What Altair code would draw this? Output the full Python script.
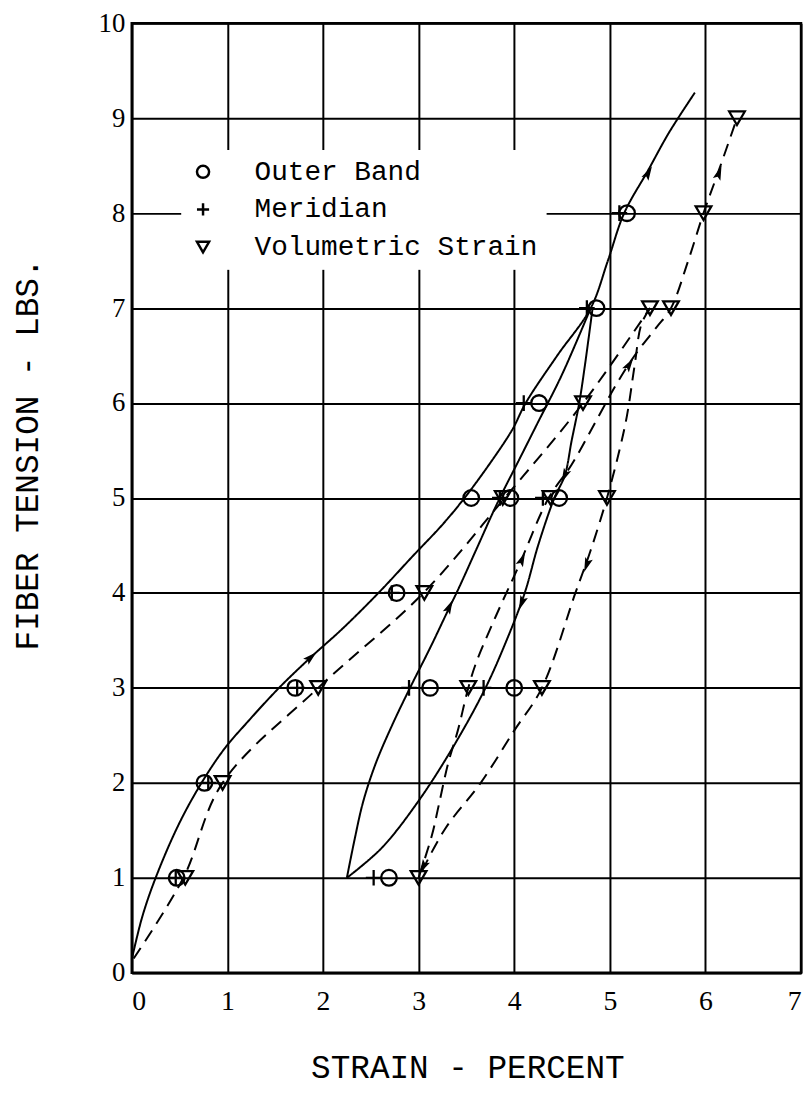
import math
import altair as alt
import pandas as pd

# ---------------- data ----------------
# solid curves (Outer band / meridian), each listed in the direction of travel
load_x = [0.0, 0.11, 0.25, 0.49, 0.73, 0.97, 1.21, 1.54, 1.87, 2.2, 2.58, 2.95, 3.25, 3.48, 3.75, 3.98, 4.12, 4.45, 4.8, 4.98, 5.15, 5.4, 5.62, 5.89]
load_y = [0.14, 0.59, 1.0, 1.56, 2.0, 2.36, 2.64, 3.0, 3.32, 3.62, 4.0, 4.4, 4.72, 5.0, 5.37, 5.72, 6.0, 6.5, 7.0, 7.5, 8.0, 8.45, 8.85, 9.27]

unload_x = [4.82, 4.74, 4.68, 4.6, 4.53, 4.42, 4.25, 4.11, 3.92, 3.7, 3.38, 3.0, 2.61, 2.25]
unload_y = [7.0, 6.4, 6.0, 5.6, 5.24, 5.0, 4.5, 4.0, 3.5, 3.0, 2.41, 1.81, 1.31, 1.0]

reload_x = [2.25, 2.33, 2.42, 2.55, 2.72, 2.91, 3.12, 3.3, 3.42, 3.6, 3.83, 4.05, 4.25, 4.5, 4.8]
reload_y = [1.0, 1.4, 1.8, 2.2, 2.6, 3.0, 3.42, 3.8, 4.05, 4.45, 4.96, 5.4, 5.8, 6.3, 7.0]

# dashed curves (volumetric strain)
vload_x = [0.02, 0.54, 0.95, 1.95, 3.05, 3.9, 4.72, 5.42]
vload_y = [0.15, 1.0, 2.0, 3.0, 4.0, 5.0, 6.0, 7.0]

vunload_x = [5.42, 5.33, 5.26, 5.18, 5.1, 4.97, 4.8, 4.64, 4.29, 4.0, 3.65, 3.28, 3.0]
vunload_y = [7.0, 6.83, 6.4, 5.87, 5.5, 5.0, 4.45, 4.0, 3.0, 2.55, 2.0, 1.52, 1.0]

vreload_x = [3.0, 3.14, 3.21, 3.31, 3.41, 3.52, 3.6, 3.81, 4.05, 4.36, 4.6, 4.85, 5.07, 5.28, 5.49, 5.64, 5.82, 5.98, 6.14, 6.33]
vreload_y = [1.0, 1.45, 1.76, 2.21, 2.55, 3.0, 3.26, 3.76, 4.29, 5.0, 5.35, 5.8, 6.2, 6.53, 6.8, 7.0, 7.5, 8.0, 8.45, 9.0]

# measured points
outer_x = [0.47, 2.69, 0.76, 1.71, 3.12, 4.0, 2.77, 3.55, 3.96, 4.47, 4.26, 4.86, 5.18]
outer_y = [1, 1, 2, 3, 3, 3, 4, 5, 5, 5, 6, 7, 8]

merid_x = [0.46, 2.53, 0.8, 1.73, 2.9, 3.68, 2.72, 3.85, 4.3, 4.1, 4.76, 5.1]
merid_y = [1, 1, 2, 3, 3, 3, 4, 5, 5, 6, 7, 8]

vol_x = [0.56, 3.0, 0.95, 1.95, 3.52, 4.29, 3.06, 3.88, 4.38, 4.97, 4.72, 5.42, 5.64, 5.98, 6.33]
vol_y = [1, 1, 2, 3, 3, 3, 4, 5, 5, 5, 6, 7, 7, 8, 9]

# arrow heads: (curve, x, y) – they point along the curve's direction of travel
arrow_curve = ["load", "load", "reload", "unload", "unload", "vreload", "vreload", "vreload", "vunload", "vunload"]
arrow_x = [1.87, 5.4, 3.32, 4.53, 4.08, 4.08, 5.2, 6.14, 4.76, 3.05]
arrow_y = [3.32, 8.42, 3.85, 5.24, 3.9, 4.35, 6.4, 8.42, 4.3, 1.12]

x_ticks = [0, 1, 2, 3, 4, 5, 6, 7]
y_ticks = [0, 1, 2, 3, 4, 5, 6, 7, 8, 9, 10]
series = ["Outer Band", "Meridian", "Volumetric Strain"]

# ---------------- tables ----------------
W, H = 676, 959
XMAX, YMAX = 7, 10

curves = {
    "load": ("solid", load_x, load_y),
    "unload": ("solid", unload_x, unload_y),
    "reload": ("solid", reload_x, reload_y),
    "vload": ("dashed", vload_x, vload_y),
    "vunload": ("dashed", vunload_x, vunload_y),
    "vreload": ("dashed", vreload_x, vreload_y),
}
line_rows = []
for name, (style, xs, ys) in curves.items():
    for i, (x, y) in enumerate(zip(xs, ys)):
        line_rows.append({"curve": name, "style": style, "i": i, "x": x, "y": y})
lines_df = pd.DataFrame(line_rows)

pt_rows = []
for s, xs, ys in zip(series, [outer_x, merid_x, vol_x], [outer_y, merid_y, vol_y]):
    for x, y in zip(xs, ys):
        pt_rows.append({"series": s, "x": x, "y": y})
pts_df = pd.DataFrame(pt_rows)

# arrow direction from the local curve segment (pixel space)
px_x, px_y = W / XMAX, H / YMAX
arr_rows = []
for c, ax, ay in zip(arrow_curve, arrow_x, arrow_y):
    _, xs, ys = curves[c]
    best, bi = 1e9, 0
    for k in range(len(xs) - 1):
        mx, my = (xs[k] + xs[k + 1]) / 2, (ys[k] + ys[k + 1]) / 2
        d = (mx - ax) ** 2 + (my - ay) ** 2
        if d < best:
            best, bi = d, k
    dx = (xs[bi + 1] - xs[bi]) * px_x
    dy = -(ys[bi + 1] - ys[bi]) * px_y
    ang = math.degrees(math.atan2(dx, -dy)) % 360
    arr_rows.append({"x": ax, "y": ay, "angle": ang})
arr_df = pd.DataFrame(arr_rows)

# ---------------- chart ----------------
MONO = "Liberation Mono"
SERIF = "Liberation Serif"

xenc = alt.X(
    "x:Q",
    scale=alt.Scale(domain=[0, XMAX], nice=False, zero=False),
    axis=alt.Axis(
        values=x_ticks, title="STRAIN - PERCENT", grid=True, ticks=False,
        gridColor="black", gridWidth=2, gridOpacity=1,
        domainColor="black", domainWidth=2.5,
        labelFont=SERIF, labelFontSize=28, labelColor="black", labelPadding=15,
        titleFont=MONO, titleFontSize=33, titleFontWeight="normal", titleColor="black",
        titleX=339, titleY=96, titleBaseline="middle", titleAlign="center",
    ),
)
yenc = alt.Y(
    "y:Q",
    scale=alt.Scale(domain=[0, YMAX], nice=False, zero=False),
    axis=alt.Axis(
        values=y_ticks, title="FIBER TENSION - LBS.", grid=True, ticks=False,
        gridColor="black", gridWidth=2, gridOpacity=1,
        domainColor="black", domainWidth=2.5,
        labelFont=SERIF, labelFontSize=27, labelColor="black", labelPadding=7,
        titleFont=MONO, titleFontSize=33, titleFontWeight="normal", titleColor="black",
        titleAngle=270, titleX=-105, titleY=435, titleBaseline="middle", titleAlign="center",
    ),
)

lines = alt.Chart(lines_df).mark_line(color="black", strokeWidth=2, interpolate="catmull-rom").encode(
    x=xenc, y=yenc,
    detail="curve:N",
    order="i:Q",
    strokeDash=alt.StrokeDash("style:N", scale=alt.Scale(domain=["solid", "dashed"], range=[[1, 0], [13, 8]]), legend=None),
)

PLUS = "M-1,0H1M0,-1V1"
points = alt.Chart(pts_df).mark_point(filled=False, color="black", strokeWidth=2.3, size=250, opacity=1).encode(
    x=xenc, y=yenc,
    shape=alt.Shape(
        "series:N",
        scale=alt.Scale(domain=series, range=["circle", PLUS, "triangle-down"]),
        legend=alt.Legend(
            title=None, orient="none", legendX=50, legendY=128,
            fillColor="white", padding=8, strokeColor="white",
            labelFont=MONO, labelFontSize=28, labelColor="black", labelOffset=38, labelLimit=500,
            symbolSize=150, symbolStrokeWidth=2.5, symbolStrokeColor="black",
            symbolFillColor="transparent", rowPadding=10,
        ),
    ),
)

ARROW = "M0,-1L0.5,0.8L0,0.45L-0.5,0.8Z"
arrows = alt.Chart(arr_df).mark_point(filled=True, color="black", shape=ARROW, size=260, opacity=1).encode(
    x=xenc, y=yenc,
    angle=alt.Angle("angle:Q", scale=None),
)

chart = (
    alt.layer(lines, points, arrows)
    .properties(
        width=W, height=H,
        autosize=alt.AutoSizeParams(type="none"),
        padding={"left": 125, "top": 10, "right": 3, "bottom": 113},
        background="white",
    )
    .configure_view(stroke="black", strokeWidth=2.5)
)

chart.save("out.html", embed_options={"renderer": "svg", "actions": False})
